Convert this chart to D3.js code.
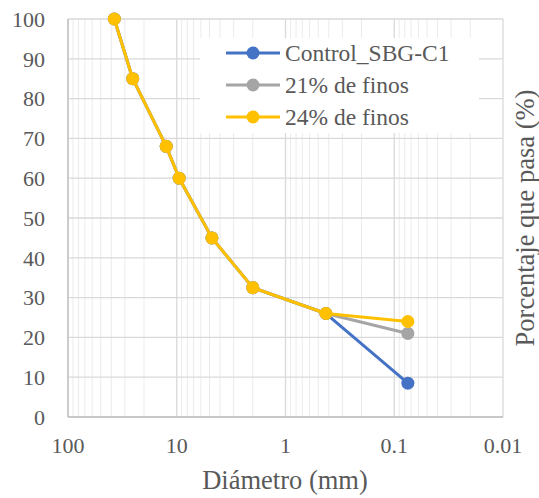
<!DOCTYPE html>
<html>
<head>
<meta charset="utf-8">
<script src="https://cdn.jsdelivr.net/npm/d3@7"></script>
<style>
body { margin: 0; background: #fff; }
</style>
</head>
<body>
<script>
// sieve sizes (mm) and percent passing
var diameters = [37.5, 25.4, 12.5, 9.5, 4.75, 2.0, 0.425, 0.075];
var control = [100, 85, 68, 60, 45, 32.5, 26, 8.5];
var finos21 = [100, 85, 68, 60, 45, 32.5, 26, 21];
var finos24 = [100, 85, 68, 60, 45, 32.5, 26, 24];
var seriesNames = ["Control_SBG-C1", "21% de finos", "24% de finos"];
var seriesColors = ["#4472C4", "#A5A5A5", "#FFC000"];
var xTicks = [100, 10, 1, 0.1, 0.01];
var yTicks = [0, 10, 20, 30, 40, 50, 60, 70, 80, 90, 100];

let textColor = "#595959";
let serif = "\"Liberation Serif\"";

let outerWidth = 539;
let outerHeight = 498;
let margin = {top: 19, left: 68, right: 36, bottom: 81};
let width = outerWidth - margin.left - margin.right;
let height = outerHeight - margin.top - margin.bottom;

let svg = d3.select("body").append("svg")
    .attr("width", outerWidth)
    .attr("height", outerHeight);
let g = svg.append("g")
    .attr("transform", "translate(" + margin.left + "," + margin.top + ")");

let xScale = d3.scaleLog().domain([100, 0.01]).range([0, width]);
let yScale = d3.scaleLinear().domain([0, 100]).range([height, 0]);

// minor vertical grid
let minor = [];
[10, 1, 0.1, 0.01].forEach(function(d) {
    for (var k = 2; k <= 9; k++) minor.push(d * k);
});
g.selectAll(".minor").data(minor).enter().append("line")
    .attr("x1", d => xScale(d)).attr("x2", d => xScale(d))
    .attr("y1", 0).attr("y2", height)
    .attr("stroke", "#EBEBEB").attr("stroke-width", 1);

// major grid
g.selectAll(".hgrid").data(yTicks).enter().append("line")
    .attr("x1", 0).attr("x2", width)
    .attr("y1", d => yScale(d)).attr("y2", d => yScale(d))
    .attr("stroke", "#D9D9D9").attr("stroke-width", 1.3);
g.selectAll(".vgrid").data(xTicks).enter().append("line")
    .attr("x1", d => xScale(d)).attr("x2", d => xScale(d))
    .attr("y1", 0).attr("y2", height)
    .attr("stroke", "#D9D9D9").attr("stroke-width", 1.3);

// axes lines
g.append("line").attr("x1", 0).attr("x2", 0).attr("y1", 0).attr("y2", height)
    .attr("stroke", "#BFBFBF").attr("stroke-width", 1.3);
g.append("line").attr("x1", 0).attr("x2", width).attr("y1", height).attr("y2", height)
    .attr("stroke", "#BFBFBF").attr("stroke-width", 1.3);

// tick labels
g.selectAll(".ylab").data(yTicks).enter().append("text")
    .attr("x", -23).attr("y", d => yScale(d)).attr("dy", "0.35em")
    .attr("text-anchor", "end")
    .style("font-family", serif).style("font-size", "22px").attr("fill", textColor)
    .text(d => d);
g.selectAll(".xlab").data(xTicks).enter().append("text")
    .attr("x", d => xScale(d)).attr("y", 453 - margin.top)
    .attr("text-anchor", "middle")
    .style("font-family", serif).style("font-size", "22px").attr("fill", textColor)
    .text(d => d);

// axis titles
svg.append("text")
    .attr("x", 285).attr("y", 489)
    .attr("text-anchor", "middle")
    .style("font-family", serif).style("font-size", "26.5px").attr("fill", textColor)
    .text("Diámetro (mm)");
svg.append("text")
    .attr("transform", "translate(534,218) rotate(-90)")
    .attr("text-anchor", "middle")
    .style("font-family", serif).style("font-size", "26.5px").attr("fill", textColor)
    .text("Porcentaje que pasa (%)");

// legend
let legend = g.append("g");
legend.append("rect")
    .attr("x", 132).attr("y", 19).attr("width", 279).attr("height", 95)
    .attr("fill", "#fff");

let allSeries = [control, finos21, finos24];
let line = d3.line()
    .x((d, i) => xScale(diameters[i]))
    .y(d => yScale(d));

allSeries.forEach(function(vals, s) {
    g.append("path").attr("d", line(vals))
        .attr("fill", "none").attr("stroke", seriesColors[s])
        .attr("stroke-width", 3).attr("stroke-linejoin", "round");
    g.selectAll(".pt" + s).data(vals).enter().append("circle")
        .attr("cx", (d, i) => xScale(diameters[i]))
        .attr("cy", d => yScale(d))
        .attr("r", 6.5).attr("fill", seriesColors[s]);
});

seriesNames.forEach(function(name, s) {
    let y = 34 + s * 32;
    legend.append("line").attr("x1", 158).attr("x2", 212)
        .attr("y1", y).attr("y2", y)
        .attr("stroke", seriesColors[s]).attr("stroke-width", 3);
    legend.append("circle").attr("cx", 185).attr("cy", y).attr("r", 6.5)
        .attr("fill", seriesColors[s]);
    legend.append("text").attr("x", 217).attr("y", y).attr("dy", "0.35em")
        .style("font-family", serif).style("font-size", "23.5px").attr("fill", textColor)
        .text(name);
});
</script>
</body>
</html>
